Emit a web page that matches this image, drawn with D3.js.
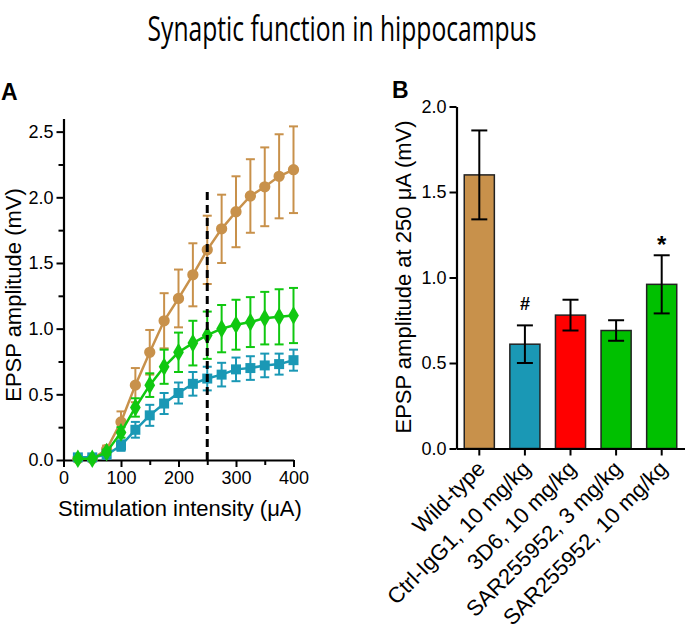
<!DOCTYPE html>
<html>
<head>
<meta charset="utf-8">
<script src="https://cdn.jsdelivr.net/npm/d3@7"></script>
<style>
  html, body { margin: 0; padding: 0; background: #fff; }
  svg { display: block; }
  text { font-family: "Liberation Sans", Arial, sans-serif; fill: #000; }
</style>
</head>
<body>
<svg id="chart" width="685" height="633"></svg>
<script>
// ---------- Data ----------
const titleText = "Synaptic function in hippocampus";

// Panel A: stimulation intensity (µA)
const intensities = [25, 50, 75, 100, 125, 150, 175, 200, 225, 250, 275, 300, 325, 350, 375, 400];
const wtMean   = [0.01, 0.01, 0.08, 0.29, 0.57, 0.82, 1.06, 1.23, 1.41, 1.60, 1.76, 1.89, 2.01, 2.08, 2.16, 2.21];
const wtSem    = [0.01, 0.01, 0.03, 0.08, 0.13, 0.17, 0.21, 0.22, 0.24, 0.26, 0.26, 0.27, 0.28, 0.30, 0.32, 0.33];
const ctrlMean = [0.02, 0.02, 0.04, 0.11, 0.23, 0.34, 0.43, 0.51, 0.58, 0.62, 0.65, 0.69, 0.70, 0.72, 0.73, 0.76];
const ctrlSem  = [0.01, 0.01, 0.02, 0.04, 0.06, 0.08, 0.08, 0.08, 0.09, 0.09, 0.09, 0.09, 0.09, 0.09, 0.08, 0.08];
const sarMean  = [0.01, 0.01, 0.06, 0.21, 0.40, 0.57, 0.71, 0.82, 0.89, 0.95, 1.00, 1.03, 1.05, 1.08, 1.09, 1.10];
const sarSem   = [0.01, 0.01, 0.02, 0.04, 0.07, 0.09, 0.13, 0.15, 0.17, 0.18, 0.18, 0.19, 0.19, 0.20, 0.21, 0.21];
const xTicksA = [0, 100, 200, 300, 400];
const xMinorA = [50, 150, 250, 350];
const yTicksA = [0, 0.5, 1.0, 1.5, 2.0, 2.5];
const yMinorA = [0.25, 0.75, 1.25, 1.75, 2.25];
const markerLine = 250;

// Panel B
const groups  = ["Wild-type", "Ctrl-IgG1, 10 mg/kg", "3D6, 10 mg/kg", "SAR255952, 3 mg/kg", "SAR255952, 10 mg/kg"];
const barMean = [1.60, 0.61, 0.78, 0.69, 0.96];
const barSem  = [0.26, 0.11, 0.09, 0.06, 0.17];
const barSig  = ["", "#", "", "", "*"];
const yTicksB = [0, 0.5, 1.0, 1.5, 2.0];

// Colours
const cWT = "#C8914B", cCtrl = "#1A98B5", c3D6 = "#FF0000", cSAR = "#00C000", cSARline = "#10C810";
const barColors = [cWT, cCtrl, c3D6, cSAR, cSAR];

// ---------- Drawing ----------
const svg = d3.select("#chart");

// Title: condensed horizontally to the reference width via a scale transform
const titleG = svg.append("g");
const titleT = titleG.append("text")
  .attr("x", 0).attr("y", 0)
  .attr("text-anchor", "middle")
  .style("font-family", "'Open Sans', 'Noto Sans', sans-serif")
  .style("font-size", "34px")
  .text(titleText);
const tLen = titleT.node().getComputedTextLength() || 389;
titleG.attr("transform", `translate(342,41) scale(${389 / tLen},1)`);

function styleAxis(g) {
  g.selectAll("path.domain").attr("stroke", "#000").attr("stroke-width", 2.2);
  g.selectAll(".tick line").attr("stroke", "#000").attr("stroke-width", 2);
  g.selectAll(".tick text").style("font-size", "18px").style("font-family", "'Liberation Sans', Arial, sans-serif");
}

// ===== Panel A =====
const xA = d3.scaleLinear().domain([0, 400]).range([63.5, 293.5]);
const yA = d3.scaleLinear().domain([0, 2.6]).range([460, 118.5]);

svg.append("text").attr("x", 1).attr("y", 100)
  .style("font-size", "23px").style("font-weight", "bold").text("A");

const gxA = svg.append("g").attr("transform", "translate(0,460)")
  .call(d3.axisBottom(xA).tickValues(xTicksA).tickSize(7).tickSizeOuter(0).tickPadding(4));
styleAxis(gxA);
svg.append("g").attr("transform", "translate(0,460)")
  .call(d3.axisBottom(xA).tickValues(xMinorA).tickSize(5).tickFormat(""))
  .call(g => { g.select(".domain").remove(); g.selectAll("line").attr("stroke-width", 2); });

const gyA = svg.append("g").attr("transform", "translate(63.5,0)")
  .call(d3.axisLeft(yA).tickValues(yTicksA).tickSize(7).tickSizeOuter(0).tickPadding(3).tickFormat(d3.format(".1f")));
styleAxis(gyA);
svg.append("g").attr("transform", "translate(63.5,0)")
  .call(d3.axisLeft(yA).tickValues(yMinorA).tickSize(5).tickFormat(""))
  .call(g => { g.select(".domain").remove(); g.selectAll("line").attr("stroke-width", 2); });

svg.append("text")
  .attr("transform", "translate(21,295) rotate(-90)")
  .attr("text-anchor", "middle").style("font-size", "22px")
  .text("EPSP amplitude (mV)");
svg.append("text")
  .attr("x", 180).attr("y", 516)
  .attr("text-anchor", "middle").style("font-size", "22px")
  .text("Stimulation intensity (μA)");

function drawSeries(mean, sem, color, shape, size) {
  const pts = intensities.map((x, i) => ({x, m: mean[i], s: sem[i]}));
  const g = svg.append("g");
  const eb = g.selectAll("g.eb").data(pts).join("g");
  eb.append("line")
    .attr("x1", d => xA(d.x)).attr("x2", d => xA(d.x))
    .attr("y1", d => yA(d.m - d.s)).attr("y2", d => yA(d.m + d.s))
    .attr("stroke", color).attr("stroke-width", 2);
  [1, -1].forEach(sgn => {
    eb.append("line")
      .attr("x1", d => xA(d.x) - 4.5).attr("x2", d => xA(d.x) + 4.5)
      .attr("y1", d => yA(d.m + sgn * d.s)).attr("y2", d => yA(d.m + sgn * d.s))
      .attr("stroke", color).attr("stroke-width", 2);
  });
  g.append("path").datum(pts)
    .attr("d", d3.line().x(d => xA(d.x)).y(d => yA(d.m)))
    .attr("fill", "none").attr("stroke", color).attr("stroke-width", 2.5);
  g.selectAll("path.mk").data(pts).join("path")
    .attr("transform", d => `translate(${xA(d.x)},${yA(d.m)})`)
    .attr("d", d3.symbol().type(shape).size(size))
    .attr("fill", color);
}
drawSeries(wtMean, wtSem, cWT, d3.symbolCircle, 100);
drawSeries(ctrlMean, ctrlSem, cCtrl, d3.symbolSquare, 100);
drawSeries(sarMean, sarSem, cSARline, d3.symbolDiamond, 100);

svg.append("line")
  .attr("x1", xA(markerLine)).attr("x2", xA(markerLine))
  .attr("y1", yA(0)).attr("y2", yA(2.07))
  .attr("stroke", "#000").attr("stroke-width", 3)
  .attr("stroke-dasharray", "8,5");

// ===== Panel B =====
const xB = d3.scaleBand().domain(groups).range([456.5, 684.5]).paddingInner(0.34).paddingOuter(0.17);
const yB = d3.scaleLinear().domain([0, 2]).range([448.5, 106.5]);

svg.append("text").attr("x", 392).attr("y", 98)
  .style("font-size", "23px").style("font-weight", "bold").text("B");

svg.append("g").selectAll("rect").data(groups).join("rect")
  .attr("x", d => xB(d)).attr("width", xB.bandwidth())
  .attr("y", (d, i) => yB(barMean[i])).attr("height", (d, i) => yB(0) - yB(barMean[i]))
  .attr("fill", (d, i) => barColors[i])
  .attr("stroke", "#222").attr("stroke-width", 1.5);

const ebB = svg.append("g").selectAll("g").data(groups).join("g");
ebB.append("line")
  .attr("x1", d => xB(d) + xB.bandwidth() / 2).attr("x2", d => xB(d) + xB.bandwidth() / 2)
  .attr("y1", (d, i) => yB(barMean[i] - barSem[i])).attr("y2", (d, i) => yB(barMean[i] + barSem[i]))
  .attr("stroke", "#000").attr("stroke-width", 2);
[1, -1].forEach(sgn => {
  ebB.append("line")
    .attr("x1", d => xB(d) + xB.bandwidth() / 2 - 8).attr("x2", d => xB(d) + xB.bandwidth() / 2 + 8)
    .attr("y1", (d, i) => yB(barMean[i] + sgn * barSem[i])).attr("y2", (d, i) => yB(barMean[i] + sgn * barSem[i]))
    .attr("stroke", "#000").attr("stroke-width", 2);
});

svg.append("g").selectAll("text").data(groups).join("text")
  .attr("x", d => xB(d) + xB.bandwidth() / 2)
  .attr("y", (d, i) => yB(barMean[i] + barSem[i]) - 15)
  .attr("text-anchor", "middle")
  .style("font-weight", "bold")
  .style("font-size", (d, i) => barSig[i] === "*" ? "24px" : "18px")
  .attr("dy", (d, i) => barSig[i] === "*" ? "0.55em" : "0")
  .text((d, i) => barSig[i]);

const gxB = svg.append("g").attr("transform", "translate(0,448.5)")
  .call(d3.axisBottom(xB).tickSize(7).tickSizeOuter(0).tickFormat(""));
styleAxis(gxB);

svg.append("g").selectAll("text.cat").data(groups).join("text")
  .attr("transform", d => `translate(${xB(d) + xB.bandwidth() / 2 + 7},470) rotate(-45)`)
  .attr("text-anchor", "end")
  .style("font-size", "22px")
  .text(d => d);

const gyB = svg.append("g").attr("transform", "translate(456.5,0)")
  .call(d3.axisLeft(yB).tickValues(yTicksB).tickSize(7).tickSizeOuter(0).tickPadding(3).tickFormat(d3.format(".1f")));
styleAxis(gyB);

svg.append("text")
  .attr("transform", "translate(411,277) rotate(-90)")
  .attr("text-anchor", "middle").style("font-size", "22px")
  .text("EPSP amplitude at 250 μA (mV)");
</script>
</body>
</html>
